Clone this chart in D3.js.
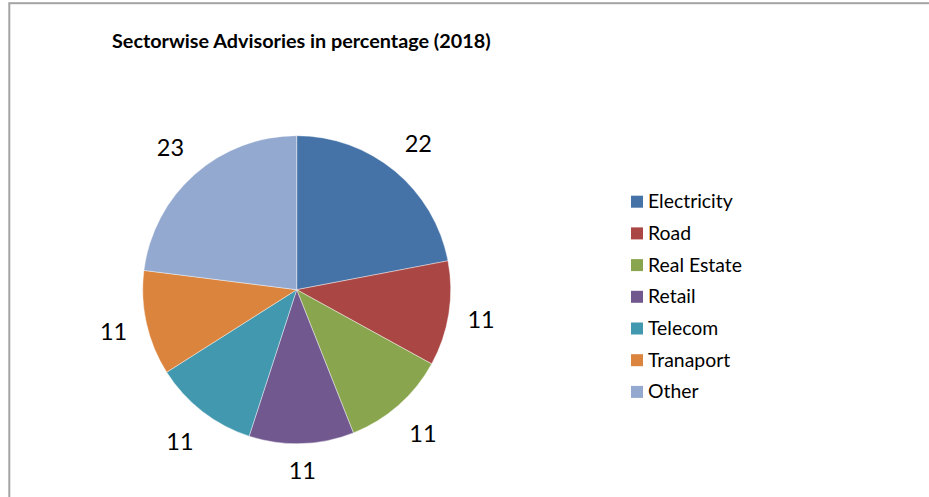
<!DOCTYPE html>
<html>
<head>
<meta charset="utf-8">
<script src="https://cdn.jsdelivr.net/npm/d3@7"></script>
<style>
  html, body { margin: 0; padding: 0; background: #fff; }
  svg { display: block; }
</style>
</head>
<body>
<svg id="chart" width="929" height="497"></svg>
<script>
// Sector shares of advisories, 2018 (percent)
const sectors = ["Electricity", "Road", "Real Estate", "Retail", "Telecom", "Tranaport", "Other"];
const shares = [22, 11, 11, 11, 11, 11, 23];
const sectorColors = ["#4572A7", "#AA4643", "#89A54E", "#71588F", "#4198AF", "#DB843D", "#93A9CF"];
const chartTitle = "Sectorwise Advisories in percentage (2018)";

const W = 929, H = 497;
const svg = d3.select("#chart");
const FONT = "Lato, 'Open Sans', sans-serif";

// chart frame (only top and left edges fall inside the view)
svg.append("rect")
  .attr("x", 9.3).attr("y", 3.2)
  .attr("width", W + 20).attr("height", H + 20)
  .attr("fill", "none")
  .attr("stroke", "#a3a3a3")
  .attr("stroke-width", 2);

// title
svg.append("text")
  .attr("x", 112).attr("y", 47.7)
  .attr("font-family", FONT)
  .attr("font-weight", 700)
  .attr("font-size", 19.8)
  .attr("fill", "#000")
  .text(chartTitle);

const data = sectors.map((s, i) => ({ sector: s, value: shares[i], color: sectorColors[i] }));

const cx = 296.7, cy = 289.7, r = 154;
const pie = d3.pie().value(d => d.value).sort(null);
const arc = d3.arc().innerRadius(0).outerRadius(r);
const arcs = pie(data);

const g = svg.append("g").attr("transform", `translate(${cx},${cy})`);

g.selectAll("path.slice")
  .data(arcs)
  .join("path")
  .attr("class", "slice")
  .attr("d", arc)
  .attr("fill", d => d.data.color)
  .attr("stroke", "rgba(255,255,255,0.6)")
  .attr("stroke-width", 0.7);

// value labels outside each slice; the label box is pushed clear of the rim
const labelSize = 23.5;
const halfW = 13, halfH = 8.5;
g.selectAll("text.val")
  .data(arcs)
  .join("text")
  .attr("class", "val")
  .attr("font-family", FONT)
  .attr("font-size", labelSize)
  .attr("fill", "#000")
  .attr("text-anchor", "middle")
  .attr("dominant-baseline", "central")
  .attr("transform", d => {
    const a = (d.startAngle + d.endAngle) / 2;
    const sx = Math.sin(a), cyy = -Math.cos(a);
    const ext = Math.abs(halfW * sx) + Math.abs(halfH * cyy);
    const gap = 17 + 5 * Math.abs(Math.sin(2 * a));
    const dist = r + gap + ext;
    return `translate(${sx * dist},${cyy * dist + 0.5})`;
  })
  .text(d => d.data.value);

// legend
const legend = svg.append("g").attr("transform", "translate(631,201.7)");
const rowStep = 31.7;
const rows = legend.selectAll("g.row")
  .data(data)
  .join("g")
  .attr("class", "row")
  .attr("transform", (d, i) => `translate(0,${i * rowStep})`);

rows.append("rect")
  .attr("x", 0).attr("y", -6)
  .attr("width", 12).attr("height", 12)
  .attr("fill", d => d.color);

rows.append("text")
  .attr("x", 17).attr("y", 6.4)
  .attr("font-family", FONT)
  .attr("font-size", 19.4)
  .attr("fill", "#000")
  .text(d => d.sector);
</script>
</body>
</html>
